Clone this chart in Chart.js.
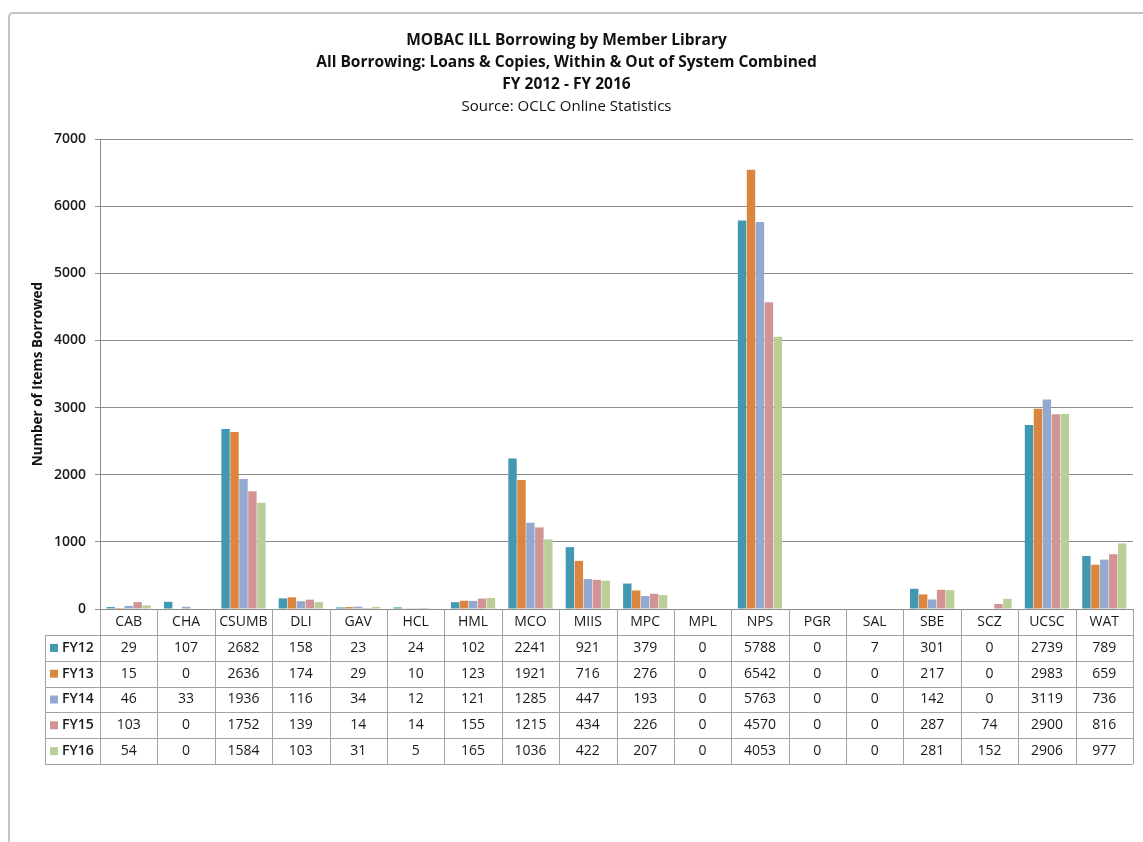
<!DOCTYPE html>
<html>
<head>
<meta charset="utf-8">
<script src="https://cdn.jsdelivr.net/npm/chart.js@4.4.1/dist/chart.umd.min.js"></script>
<style>
  html, body { margin: 0; padding: 0; background: #fff; }
  #wrap { position: relative; width: 1143px; height: 842px; overflow: hidden; }
  #frame {
    position: absolute; left: 8px; top: 12px; right: -4px; bottom: -4px;
    border-top: 2px solid #c4c4c4; border-left: 2px solid #c4c4c4;
    border-top-left-radius: 5px; pointer-events: none;
  }
  canvas { position: absolute; left: 0; top: 0; }
</style>
</head>
<body>
<div id="wrap">
  <canvas id="c" width="1143" height="842"></canvas>
  <div id="frame"></div>
</div>
<script>
// Member libraries
const libraries = ['CAB','CHA','CSUMB','DLI','GAV','HCL','HML','MCO','MIIS','MPC','MPL','NPS','PGR','SAL','SBE','SCZ','UCSC','WAT'];

// Items borrowed per fiscal year
const fy12 = [29, 107, 2682, 158, 23, 24, 102, 2241, 921, 379, 0, 5788, 0, 7, 301, 0, 2739, 789];
const fy13 = [15, 0, 2636, 174, 29, 10, 123, 1921, 716, 276, 0, 6542, 0, 0, 217, 0, 2983, 659];
const fy14 = [46, 33, 1936, 116, 34, 12, 121, 1285, 447, 193, 0, 5763, 0, 0, 142, 0, 3119, 736];
const fy15 = [103, 0, 1752, 139, 14, 14, 155, 1215, 434, 226, 0, 4570, 0, 0, 287, 74, 2900, 816];
const fy16 = [54, 0, 1584, 103, 31, 5, 165, 1036, 422, 207, 0, 4053, 0, 0, 281, 152, 2906, 977];

const seriesNames = ['FY12', 'FY13', 'FY14', 'FY15', 'FY16'];
const seriesValues = [fy12, fy13, fy14, fy15, fy16];
const seriesColors = ['#4298b0', '#dc853e', '#94a9d0', '#d29394', '#b9cf97'];

const FONT = '"Open Sans", "Liberation Sans", sans-serif';
const GRID = '#8c8c8c';
const TABLE_LINE = '#a3a3a3';

// Data table under the plot, aligned with the category axis
const dataTable = {
  id: 'dataTable',
  afterDraw(chart) {
    const ctx = chart.ctx;
    const x = chart.scales.x;
    const n = libraries.length;
    const colW = (x.right - x.left) / n;
    const top = chart.chartArea.bottom;
    const headH = 26;
    const rowH = 25.8;
    const labelLeft = 45;
    const bottom = top + headH + rowH * seriesNames.length;

    ctx.save();
    ctx.strokeStyle = TABLE_LINE;
    ctx.lineWidth = 1;
    ctx.beginPath();
    // horizontal rules
    for (let r = 0; r <= seriesNames.length; r++) {
      const y = Math.round(top + headH + r * rowH) + 0.5;
      ctx.moveTo(labelLeft, y);
      ctx.lineTo(x.right, y);
    }
    // vertical rules
    for (let i = 0; i <= n; i++) {
      const xx = Math.round(x.left + i * colW) + 0.5;
      ctx.moveTo(xx, top);
      ctx.lineTo(xx, bottom);
    }
    ctx.moveTo(labelLeft + 0.5, top + headH);
    ctx.lineTo(labelLeft + 0.5, bottom);
    ctx.stroke();

    // row labels with legend keys
    ctx.textBaseline = 'middle';
    seriesNames.forEach((name, r) => {
      const cy = top + headH + r * rowH + rowH / 2;
      ctx.fillStyle = seriesColors[r];
      ctx.fillRect(labelLeft + 5, cy - 4, 8, 8);
      ctx.fillStyle = '#1a1a1a';
      ctx.font = '600 14px ' + FONT;
      ctx.textAlign = 'left';
      ctx.fillText(name, labelLeft + 17, cy);
      ctx.font = '14px ' + FONT;
      ctx.textAlign = 'center';
      seriesValues[r].forEach((v, i) => {
        ctx.fillText(String(v), x.getPixelForValue(i), cy);
      });
    });
    ctx.restore();
  }
};

new Chart(document.getElementById('c'), {
  type: 'bar',
  data: {
    labels: libraries,
    datasets: seriesNames.map((name, k) => ({
      label: name,
      data: seriesValues[k],
      backgroundColor: seriesColors[k],
      borderWidth: 0,
      categoryPercentage: 0.78,
      barPercentage: 0.94
    }))
  },
  options: {
    responsive: false,
    animation: false,
    devicePixelRatio: 1,
    layout: { padding: { left: 0, right: 10, top: 0, bottom: 207 } },
    plugins: {
      legend: { display: false },
      tooltip: { enabled: false },
      title: {
        display: true,
        text: ['MOBAC ILL Borrowing by Member Library',
               'All Borrowing: Loans & Copies, Within & Out of System Combined',
               'FY 2012 - FY 2016'],
        color: '#111',
        font: { family: FONT, size: 15.5, weight: 'bold', lineHeight: 22 / 15.5 },
        padding: { top: 30, bottom: 0 }
      },
      subtitle: {
        display: true,
        text: 'Source: OCLC Online Statistics',
        color: '#111',
        font: { family: FONT, size: 15, weight: 'normal', lineHeight: 22 / 15 },
        padding: { top: 0, bottom: 21 }
      }
    },
    scales: {
      x: {
        grid: { display: false, drawTicks: false },
        border: { display: true, color: GRID },
        ticks: { color: '#1a1a1a', font: { family: FONT, size: 14 }, padding: 5, maxRotation: 0, autoSkip: false },
        afterFit(s) { s.height = 26; }
      },
      y: {
        min: 0,
        max: 7000,
        ticks: {
          stepSize: 1000,
          color: '#1a1a1a',
          font: { family: FONT, size: 14, weight: '600' },
          padding: 9,
          callback: (v) => String(v)
        },
        grid: { color: GRID, tickLength: 5, tickColor: GRID },
        border: { display: true, color: GRID },
        title: {
          display: true,
          text: 'Number of Items Borrowed',
          color: '#111',
          font: { family: FONT, size: 13.5, weight: 'bold', lineHeight: 1.2 },
          padding: { top: 30, bottom: 0 }
        },
        afterFit(s) { s.width = 100; }
      }
    }
  },
  plugins: [dataTable]
});
</script>
</body>
</html>
